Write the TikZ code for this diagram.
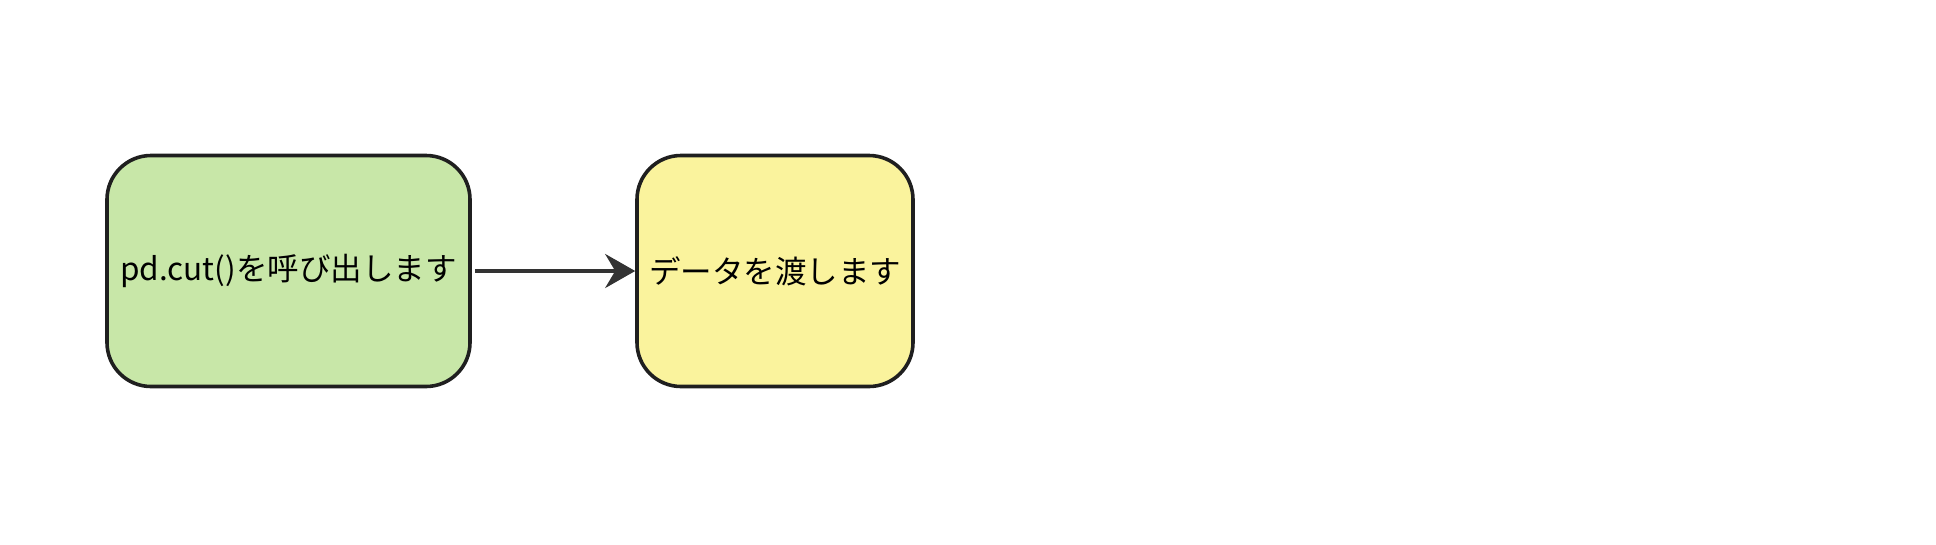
\documentclass[tikz,border=0pt]{standalone}
\usepackage{fontspec}
\setmainfont{Noto Sans CJK JP}
\usetikzlibrary{arrows.meta}
\definecolor{stepgreen}{HTML}{C8E7A8}
\definecolor{stepyellow}{HTML}{FAF39D}
\definecolor{edgegray}{HTML}{333333}
\begin{document}
\begin{tikzpicture}[x=1pt,y=-1pt]

      \useasboundingbox (0,0) rectangle (1936,544);

      \begin{scope}[every node/.style={draw=black!88, line width=3.6pt, rounded corners=44pt,
          minimum height=231pt, inner sep=0pt, font=\fontsize{31.5}{36}\selectfont}]
        \node[fill=stepgreen, minimum width=363pt]  (call) at (288.5,271) {pd.cut()を呼び出します};
        \node[fill=stepyellow, minimum width=276pt] (pass) at (775,271)   {データを渡します};
      \end{scope}

      \begin{scope}[every edge/.style={draw=edgegray, line width=3.6pt,
          -{Stealth[length=30pt,width=34pt,inset=10pt]}}]
        \path (call.east) ++(3,0) coordinate (start);
        \path (start) edge (pass.west);
      \end{scope}

    \end{tikzpicture}
\end{document}
